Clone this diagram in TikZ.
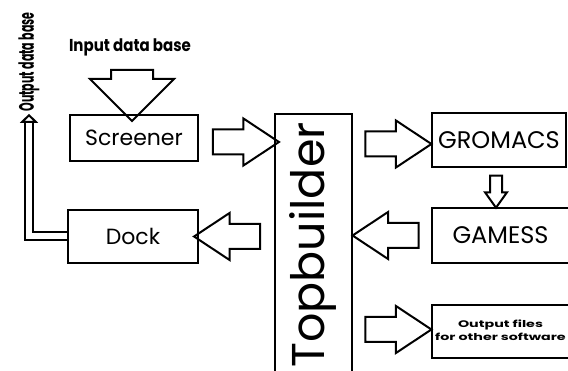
\documentclass[tikz,border=0pt]{standalone}
\usepackage{fontspec}
\setmainfont{Poppins}
\usetikzlibrary{arrows.meta, positioning, shapes.arrows, calc}

\begin{document}
\begin{tikzpicture}[x=1pt, y=-1pt,
  box/.style={draw, line width=2pt, inner sep=0pt, font=\fontsize{22}{24}\selectfont},
  harr/.style={single arrow, draw, line width=2pt, inner xsep=0pt, inner ysep=11.5pt,
    minimum height=66pt, single arrow head extend=11pt, single arrow tip angle=67,
    single arrow head indent=0pt},
  lbl/.style={font=\bfseries\fontsize{15}{15}\selectfont, inner sep=0pt},
  dbl/.style={double, double distance=6pt, line width=2pt},
]
  \clip (0,0) rectangle (568,371);
  % left side
  \node[lbl] (inlbl) at (130,47) {\scalebox{1}[1.15]{Input data base}};
  \node[box, minimum width=128pt, minimum height=46pt] (screener) at (134,138) {Screener};
  \node[box, minimum width=130pt, minimum height=53pt] (dock) at (133,236.5) {Dock};
  \node[lbl, rotate=90, font=\bfseries\fontsize{11}{11}\selectfont] (outlbl) at (29,62)
    {\scalebox{1}[1.9]{Output data base}};
  % middle column, runs off the bottom
  \node[box, minimum width=77pt, minimum height=270pt, anchor=north] (topb) at (313.5,113) {};
  \node[rotate=90, inner sep=0pt, font=\fontsize{46}{46}\selectfont] (toptxt) at (313,245) {Topbuilder};
  % right side
  \node[box, minimum width=134pt, minimum height=54pt, font=\fontsize{24}{26}\selectfont] (gromacs) at (499,140) {GROMACS};
  \node[box, minimum width=137pt, minimum height=55pt, font=\fontsize{24}{26}\selectfont] (gamess) at (500.5,235.5) {GAMESS};
  \node[box, minimum width=137pt, minimum height=53pt, font=\bfseries\fontsize{9.5}{12.5}\selectfont] (outfiles) at (500.5,331.5)
    {\scalebox{1.5}[1]{\begin{tabular}{@{}c@{}}Output files\\for other software\end{tabular}}};

  \node[harr, rotate=-90, minimum height=51pt, inner ysep=20pt, single arrow head extend=21pt,
    single arrow tip angle=90] (ain) at ($(inlbl.south)!.5!(screener.north)$) {};
  \node[harr, yshift=-4pt] (as) at ($(screener.east)!.5!(topb.west |- screener.east)$) {};
  \node[harr, xshift=-3pt, yshift=-4pt] (ag) at ($(topb.east |- gromacs.west)!.5!(gromacs.west)$) {};
  \node[harr, rotate=180, xshift=-3pt] (agm) at ($(topb.east |- gamess.west)!.5!(gamess.west)$) {};
  \node[harr, xshift=-3pt, yshift=2pt] (ao) at ($(topb.east |- outfiles.west)!.5!(outfiles.west)$) {};
  \node[harr, rotate=180] (ad) at ($(dock.east)!.5!(topb.west |- dock.east)$) {};
  \node[harr, rotate=-90, minimum height=32pt, inner ysep=5pt, single arrow head extend=5pt,
    single arrow tip angle=71, yshift=-3pt] (agg) at ($(gromacs.south)!.5!(gamess.north -| gromacs.south)$) {};

  % output data base: hollow tip first, then the double line over its stem
  \draw[line width=2pt, -{Triangle[open, length=9pt, width=18pt]}, shorten >=2pt]
    (outlbl.west |- dock.west) -- (outlbl.west);
  \draw[dbl, shorten >=11pt] (dock.west) -| (outlbl.west);
\end{tikzpicture}
\end{document}
